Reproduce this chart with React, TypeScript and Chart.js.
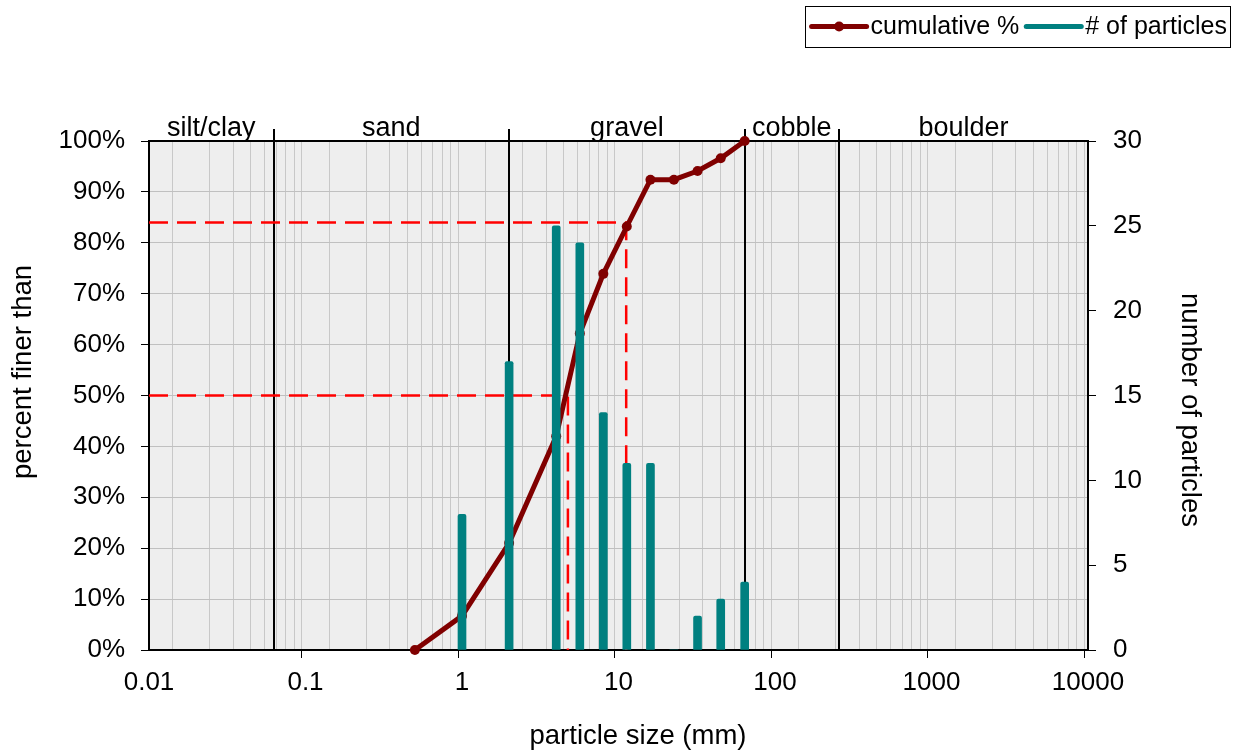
import React, { useEffect, useRef } from 'react';
import { Chart, registerables } from 'chart.js';

Chart.register(...registerables);

// ---- data ----
const particleSizes = [1, 2, 4, 5.66, 8, 11.3, 16, 22.6, 32, 45, 64];
const particleCounts = [8, 17, 25, 24, 14, 11, 11, 0, 2, 3, 4];

const cumulativeSizes = [0.5, 1, 2, 4, 5.66, 8, 11.3, 16, 22.6, 32, 45, 64];
const cumulativePercent = [0, 6.7, 21.0, 42.0, 62.2, 73.9, 83.2, 92.4, 92.4, 94.1, 96.6, 100];

const d50Size = 4.75;
const d84Size = 11.2;
const d50Percent = 50;
const d84Percent = 84;

const xTickValues = [0.01, 0.1, 1, 10, 100, 1000, 10000];
const xTickLabels = ['0.01', '0.1', '1', '10', '100', '1000', '10000'];

const classBounds = [0.01, 0.0625, 2, 64, 256, 10000];
const classNames = ['silt/clay', 'sand', 'gravel', 'cobble', 'boulder'];
const classDividers = [0.0625, 2, 64, 256];

const seriesLabels = ['cumulative %', '# of particles'];
const axisTitles = { x: 'particle size (mm)', y: 'percent finer than', y2: 'number of particles' };

const FONT = '"Liberation Sans", Arial, Helvetica, sans-serif';
const LINE_COLOR = '#800000';
const BAR_COLOR = '#008080';

// minor + major grid values for the log axis
const gridValues: number[] = [];
for (let i = 0; i < xTickValues.length - 1; i++) {
  for (let m = 1; m <= 9; m++) gridValues.push(parseFloat((m * xTickValues[i]).toPrecision(6)));
}
gridValues.push(xTickValues[xTickValues.length - 1]);

const overlayPlugin = {
  id: 'overlay',
  beforeDraw(chart: any) {
    const { ctx, chartArea: a } = chart;
    ctx.save();
    ctx.fillStyle = '#eeeeee';
    ctx.fillRect(a.left, a.top, a.right - a.left, a.bottom - a.top);
    ctx.restore();
  },
  beforeDatasetsDraw(chart: any) {
    const { ctx, chartArea: a, scales } = chart;
    const xs = scales.x;
    ctx.save();
    ctx.strokeStyle = '#000';
    ctx.lineWidth = 2;
    ctx.beginPath();
    ctx.moveTo(a.left, a.top);
    ctx.lineTo(a.right, a.top);
    ctx.stroke();
    classDividers.forEach((v) => {
      const px = Math.round(xs.getPixelForValue(v));
      ctx.beginPath();
      ctx.moveTo(px, a.top - 12);
      ctx.lineTo(px, a.bottom);
      ctx.stroke();
    });
    ctx.font = `27px ${FONT}`;
    ctx.fillStyle = '#000';
    ctx.textAlign = 'center';
    ctx.textBaseline = 'alphabetic';
    classNames.forEach((n, i) => {
      const lo = Math.log10(classBounds[i]);
      const hi = Math.log10(classBounds[i + 1]);
      const px = xs.getPixelForValue(Math.pow(10, (lo + hi) / 2));
      ctx.fillText(n, px, a.top - 5);
    });
    ctx.restore();
  },
  afterDraw(chart: any) {
    const { ctx } = chart;
    ctx.save();
    ctx.font = `27.5px ${FONT}`;
    ctx.fillStyle = '#000';
    ctx.textAlign = 'center';
    ctx.textBaseline = 'middle';
    // axis titles
    ctx.fillText(axisTitles.x, 638, 736);
    ctx.save();
    ctx.translate(23, 372);
    ctx.rotate(-Math.PI / 2);
    ctx.fillText(axisTitles.y, 0, 0);
    ctx.restore();
    ctx.save();
    ctx.translate(1190, 410);
    ctx.rotate(Math.PI / 2);
    ctx.fillText(axisTitles.y2, 0, 0);
    ctx.restore();

    // legend
    ctx.font = `25px ${FONT}`;
    const t1 = seriesLabels[0];
    const t2 = seriesLabels[1];
    const w1 = ctx.measureText(t1).width;
    const w2 = ctx.measureText(t2).width;
    const sample = 55;
    const total = 7 + sample + 4 + w1 + 7 + sample + 4 + w2 + 3;
    const right = 1230;
    const left = right - total;
    const top = 6;
    const bottom = 47;
    const cy = 26.5;
    ctx.strokeStyle = '#000';
    ctx.lineWidth = 1;
    ctx.strokeRect(Math.round(left) + 0.5, top + 0.5, Math.round(total), bottom - top);
    let x = left + 7;
    ctx.lineCap = 'round';
    ctx.strokeStyle = LINE_COLOR;
    ctx.lineWidth = 5;
    ctx.beginPath();
    ctx.moveTo(x, cy);
    ctx.lineTo(x + sample, cy);
    ctx.stroke();
    ctx.fillStyle = LINE_COLOR;
    ctx.beginPath();
    ctx.arc(x + sample / 2, cy, 5, 0, Math.PI * 2);
    ctx.fill();
    x += sample + 4;
    ctx.fillStyle = '#000';
    ctx.textAlign = 'left';
    ctx.fillText(t1, x, cy + 1);
    x += w1 + 7;
    ctx.strokeStyle = BAR_COLOR;
    ctx.beginPath();
    ctx.moveTo(x, cy);
    ctx.lineTo(x + sample, cy);
    ctx.stroke();
    x += sample + 4;
    ctx.fillText(t2, x, cy + 1);
    ctx.restore();
  },
};

export default function App() {
  const canvasRef = useRef<HTMLCanvasElement | null>(null);

  useEffect(() => {
    if (!canvasRef.current) return;
    Chart.defaults.font.family = FONT;
    Chart.defaults.color = '#000';

    const chart = new Chart(canvasRef.current, {
      type: 'line',
      data: {
        datasets: [
          {
            type: 'bar',
            label: seriesLabels[1],
            data: particleSizes.map((x, i) => ({ x, y: particleCounts[i] })),
            xAxisID: 'x',
            yAxisID: 'y2',
            backgroundColor: BAR_COLOR,
            barThickness: 8,
            borderRadius: 2,
            borderSkipped: 'start',
            order: 1,
          } as any,
          {
            type: 'line',
            label: seriesLabels[0],
            data: cumulativeSizes.map((x, i) => ({ x, y: cumulativePercent[i] })),
            xAxisID: 'x',
            yAxisID: 'y',
            borderColor: LINE_COLOR,
            backgroundColor: LINE_COLOR,
            borderWidth: 5,
            pointRadius: 5,
            pointBackgroundColor: LINE_COLOR,
            pointBorderWidth: 0,
            tension: 0,
            clip: false,
            order: 2,
          } as any,
          {
            type: 'line',
            label: 'D50',
            data: [
              { x: xTickValues[0], y: d50Percent },
              { x: d50Size, y: d50Percent },
              { x: d50Size, y: 0 },
            ],
            xAxisID: 'x',
            yAxisID: 'y',
            borderColor: '#ff0000',
            borderWidth: 2.5,
            borderDash: [19, 9],
            pointRadius: 0,
            order: 3,
          } as any,
          {
            type: 'line',
            label: 'D84',
            data: [
              { x: xTickValues[0], y: d84Percent },
              { x: d84Size, y: d84Percent },
              { x: d84Size, y: 0 },
            ],
            xAxisID: 'x',
            yAxisID: 'y',
            borderColor: '#ff0000',
            borderWidth: 2.5,
            borderDash: [19, 9],
            pointRadius: 0,
            order: 3,
          } as any,
        ],
      },
      options: {
        animation: false,
        responsive: true,
        maintainAspectRatio: false,
        events: [],
        layout: { padding: { top: 141, left: 0, right: 0, bottom: 0 } },
        plugins: {
          legend: { display: false },
          title: { display: false },
          tooltip: { enabled: false },
        },
        scales: {
          x: {
            type: 'logarithmic',
            position: 'bottom',
            min: xTickValues[0],
            max: xTickValues[xTickValues.length - 1],
            offset: false,
            afterBuildTicks: (s: any) => {
              s.ticks = gridValues.map((v) => ({ value: v, major: xTickValues.indexOf(v) >= 0 }));
            },
            afterFit: (s: any) => {
              s.height = 101;
            },
            grid: {
              color: '#c8c8c8',
              lineWidth: 1,
              tickLength: 8,
              tickColor: (c: any) => (c.tick && xTickValues.indexOf(c.tick.value) >= 0 ? '#000' : 'rgba(0,0,0,0)'),
            },
            border: { color: '#000', width: 2 },
            ticks: {
              autoSkip: false,
              maxRotation: 0,
              minRotation: 0,
              padding: 9,
              color: '#000',
              font: { size: 26 },
              callback: (v: any) => {
                const i = xTickValues.indexOf(Number(v));
                return i >= 0 ? xTickLabels[i] : '';
              },
            },
          },
          y: {
            type: 'linear',
            position: 'left',
            min: 0,
            max: 100,
            afterFit: (s: any) => {
              s.width = 149;
            },
            grid: { color: '#c0c0c0', lineWidth: 1, tickLength: 8, tickColor: '#000' },
            border: { color: '#000', width: 2 },
            ticks: {
              stepSize: 10,
              padding: 16,
              color: '#000',
              font: { size: 26 },
              callback: (v: any) => `${v}%`,
            },
          },
          y2: {
            type: 'linear',
            position: 'right',
            min: 0,
            max: 30,
            afterFit: (s: any) => {
              s.width = 151;
            },
            grid: { drawOnChartArea: false, color: '#000', tickLength: 8, tickColor: '#000' },
            border: { color: '#000', width: 2 },
            ticks: {
              stepSize: 5,
              padding: 17,
              color: '#000',
              font: { size: 26 },
            },
          },
        },
      } as any,
      plugins: [overlayPlugin],
    });

    return () => {
      chart.destroy();
    };
  }, []);

  return (
    <div style={{ position: 'fixed', left: 0, top: 0, width: 1239, height: 751, background: '#fff' }}>
      <canvas ref={canvasRef} />
    </div>
  );
}
